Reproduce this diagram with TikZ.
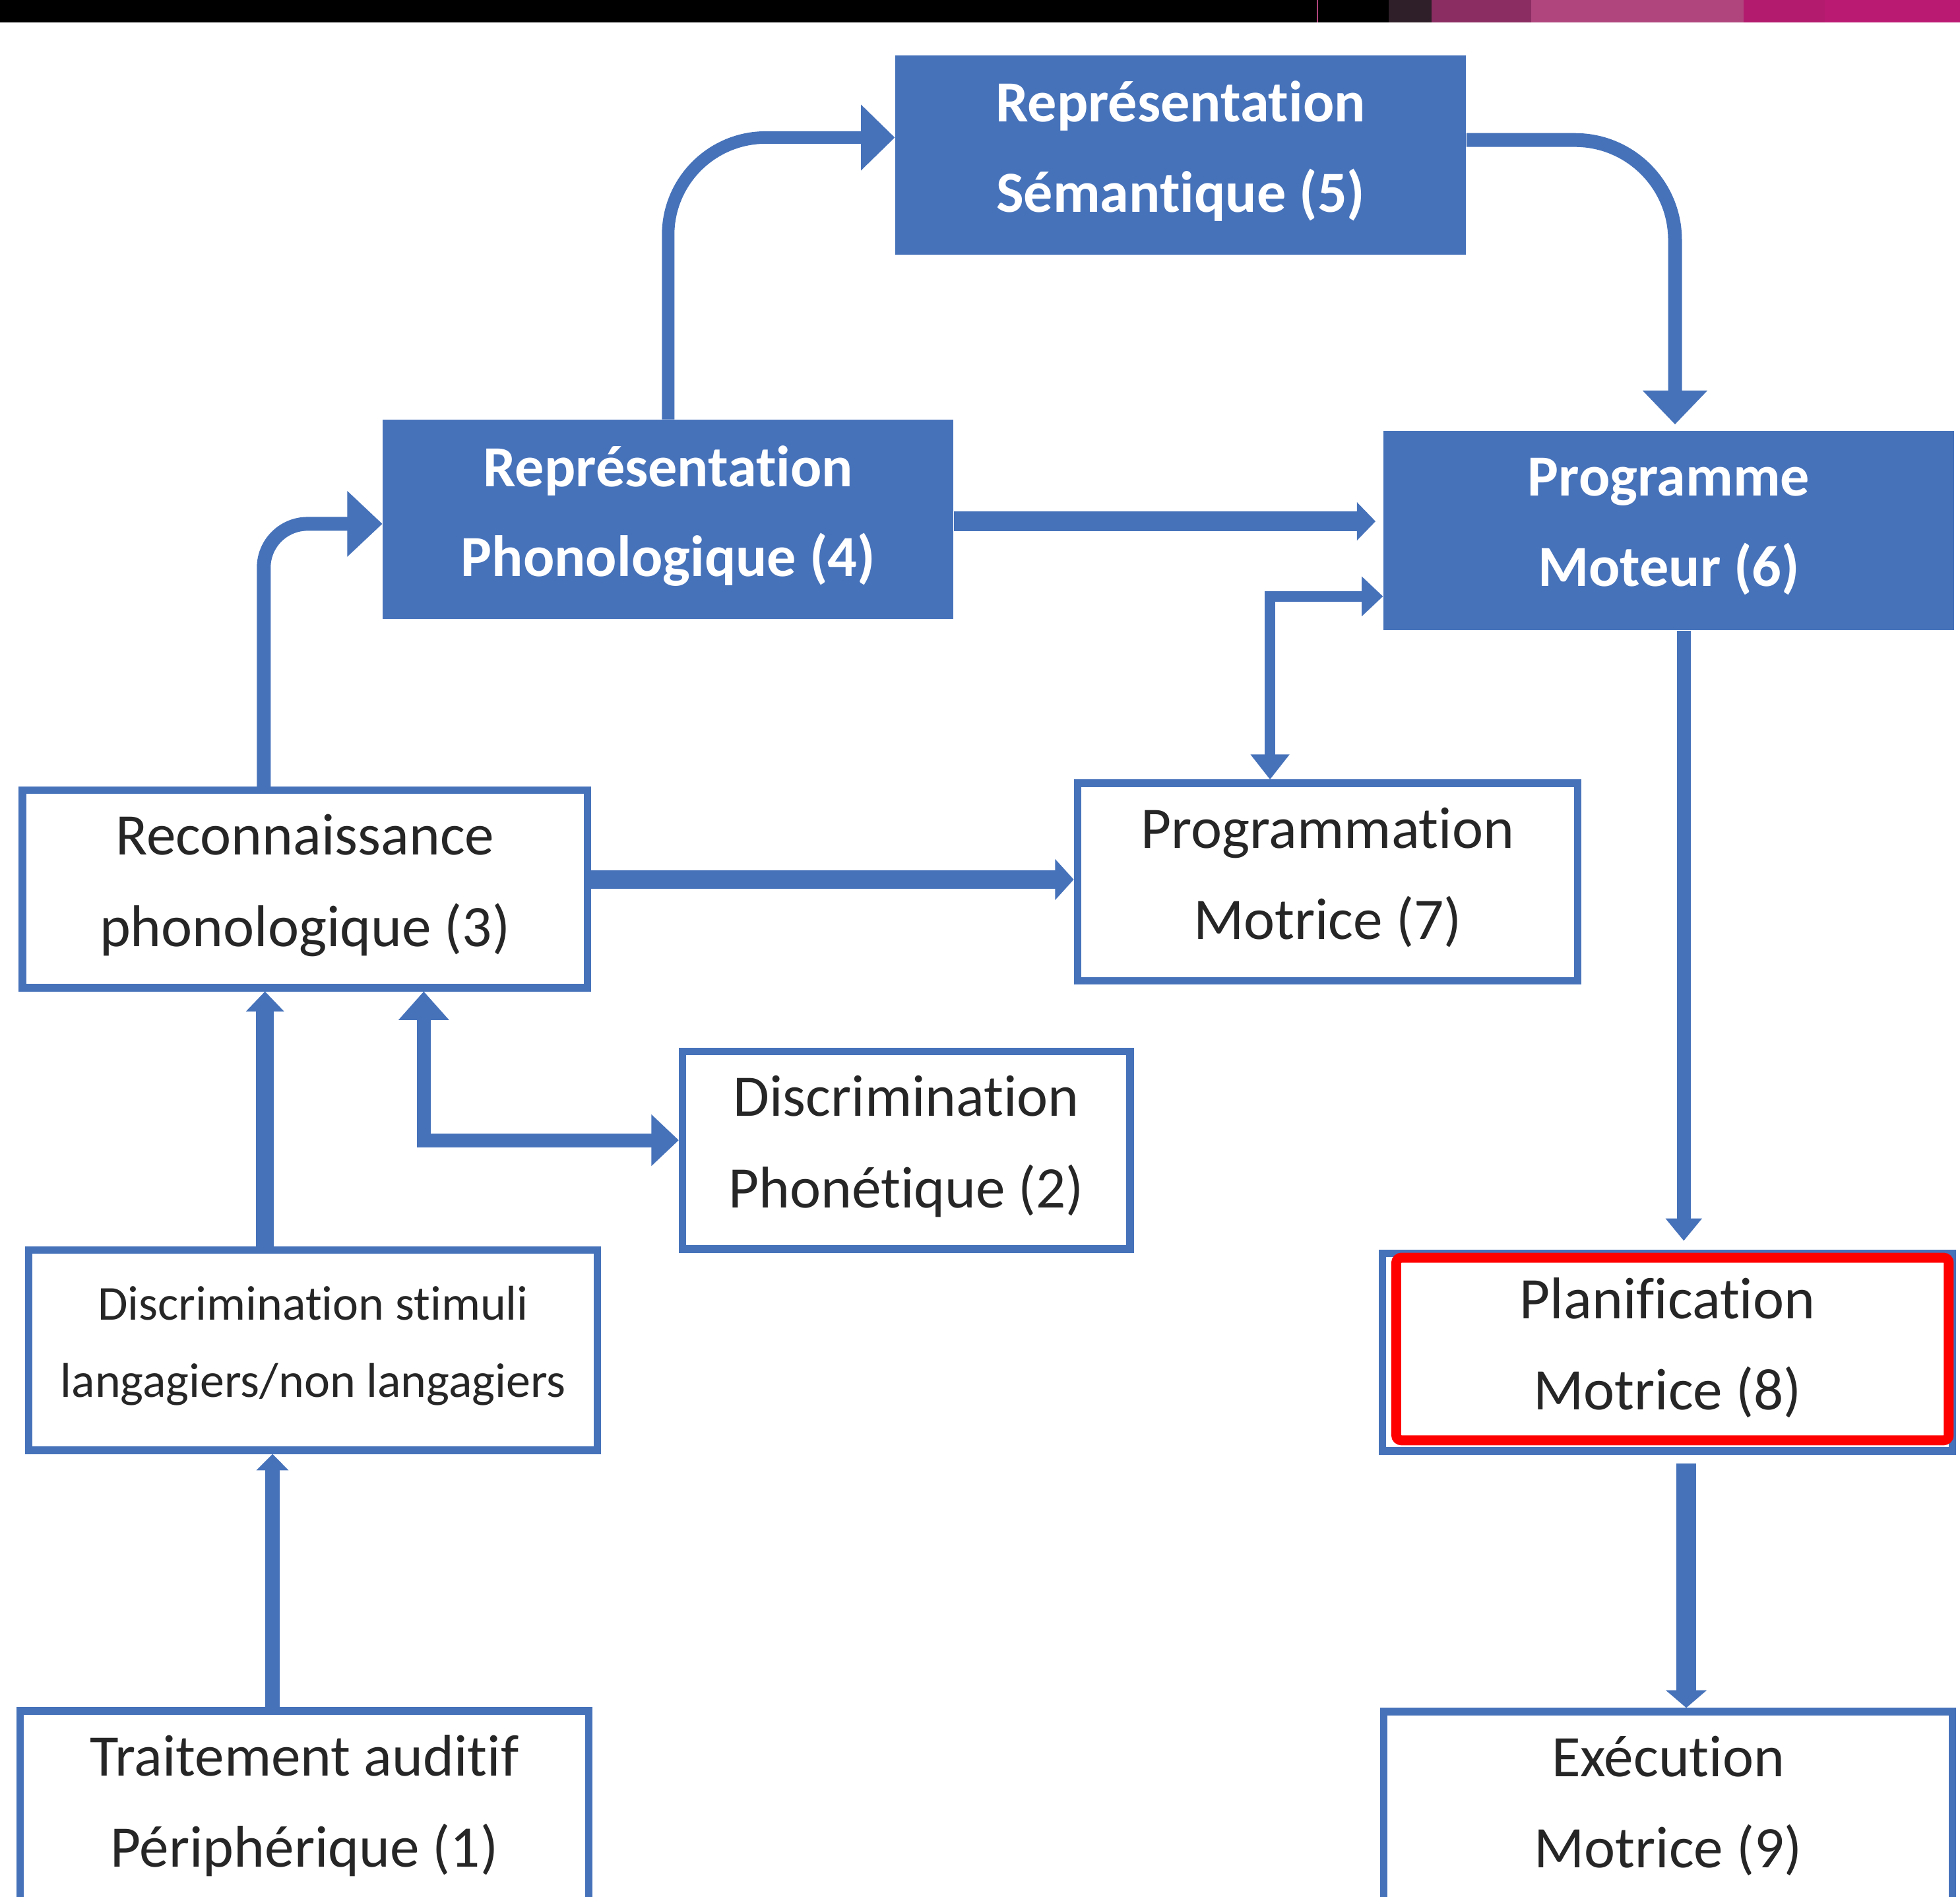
\documentclass[tikz,border=0pt]{standalone}
\usepackage{fontspec}
\setmainfont{Carlito}[Ligatures=NoCommon]
\usetikzlibrary{arrows.meta,calc}

\definecolor{bleu}{RGB}{70,114,186}
\definecolor{texte}{RGB}{38,38,38}
\definecolor{barre1}{RGB}{47,31,40}
\definecolor{barre2}{RGB}{139,45,99}
\definecolor{barre3}{RGB}{176,69,125}
\definecolor{barre4}{RGB}{179,27,110}
\definecolor{barre5}{RGB}{187,26,115}

\begin{document}
\begin{tikzpicture}[x=0.2mm, y=-0.2mm,
  plein/.style={rectangle, fill=bleu, text=white, align=center, inner sep=0pt,
    minimum width=91.3mm, minimum height=31.9mm,
    font=\bfseries\fontsize{26.5pt}{41pt}\selectfont,
    execute at begin node={\rule{0pt}{25pt}},
    execute at end node={\rule[-7.8pt]{0pt}{0pt}}},
  vide/.style={rectangle, draw=bleu, line width=3.4pt, text=texte, align=center,
    inner sep=0pt, minimum height=31.6mm,
    font=\fontsize{26.8pt}{41.5pt}\selectfont,
    execute at begin node={\rule{0pt}{25pt}},
    execute at end node={\rule[-7.8pt]{0pt}{0pt}}},
  fleche/.style n args={3}{draw=bleu, line width=#1pt,
    arrows={-Triangle[length=#2pt, width=#3pt]}},
  fleches/.style n args={5}{draw=bleu, line width=#1pt,
    arrows={Triangle[length=#2pt, width=#3pt]-Triangle[length=#4pt, width=#5pt]}}]

  \useasboundingbox (0,0) rectangle (1568,1517);
  \clip (0,0) rectangle (1568,1517);
  \fill[white] (0,0) rectangle (1568,1517);

  % Bandeau du haut
  \foreach \a/\b/\c in {0/1111/black, 1111/1145/barre1, 1145/1225/barre2,
      1225/1395/barre3, 1395/1460/barre4, 1460/1568/barre5}
    \fill[\c] (\a,0) rectangle (\b,18);
  \draw[barre3, line width=0.6pt] (1054,0) -- (1054,18);

  % Boites pleines
  \foreach \nom/\x/\y/\txt in {sem5/944.5/124/{Représentation\\Sémantique (5)},
      phono4/534.5/415.5/{Représentation\\Phonologique (4)},
      prog6/1335/424.5/{Programme\\Moteur (6)}}
    \node[plein] (\nom) at (\x,\y) {\txt};

  % Boites vides
  \foreach \nom/\x/\y/\w/\txt in {trait1/243.5/1447.5/91/{Traitement auditif\\Périphérique (1)},
      discph2/725/920/71.6/{Discrimination\\Phonétique (2)},
      reco3/244/711/90.4/{Reconnaissance\\phonologique (3)},
      progm7/1062/705.5/80/{Programmation\\Motrice (7)},
      planif8/1334/1081.5/91.2/{Planification\\Motrice (8)},
      exec9/1334.5/1448/91/{Exécution\\Motrice (9)}}
    \node[vide, minimum width=\w mm] (\nom) at (\x,\y) {\txt};

  \node[vide, minimum width=91mm, minimum height=32mm,
    font=\fontsize{22.2pt}{35.3pt}\selectfont,
    execute at begin node={\rule{0pt}{22pt}},
    execute at end node={\rule[-7.1pt]{0pt}{0pt}}] (stim) at (250.5,1080)
    {Discrimination stimuli\\langagiers/non langagiers};

  % Cadre rouge
  \draw[red, line width=4.5pt, rounded corners=0.8mm] (1117,1006) rectangle (1559,1152);

  % Connexions
  \draw[fleche={5.7}{15.4}{29}, rounded corners=15.6mm]
    (phono4.north) |- ($(sem5.west)+(0,-14)$);
  \draw[fleche={6.3}{15.4}{28.5}, rounded corners=16mm, shorten >=2.8pt]
    ($(sem5.east)+(0,-12)$) -| ($(prog6.north)+(5,0)$);

  \coordinate (c1) at ($(phono4.east)+(0,1.5)$);
  \draw[fleche={8.8}{8.5}{17}, shorten >=3.4pt] (c1) -- (c1 -| prog6.west);

  \draw[fleche={6.3}{16}{29}, rounded corners=7mm]
    ($(reco3.north)+(-33,0)$) |- ($(phono4.west)+(0,3.5)$);

  \draw[fleches={4.8}{11.4}{17}{9.7}{17.6}]
    ($(progm7.north)+(-46,0)$) |- ($(prog6.west)+(0,52.5)$);

  \coordinate (f1) at ($(reco3.east)+(0,-7.5)$);
  \draw[fleche={8.5}{8.5}{18.2}] (f1) -- (f1 -| progm7.west);

  \coordinate (g1) at ($(prog6.south)+(12,0)$);
  \draw[fleche={6.3}{10.2}{16}, shorten >=4pt] (g1) -- (g1 |- planif8.north);

  \coordinate (h1) at ($(stim.north)+(-38.5,0)$);
  \draw[fleche={8}{9.1}{16.8}] (h1) -- (h1 |- reco3.south);

  \coordinate (i1) at ($(reco3.south)+(95,0)$);
  \draw[fleches={6.3}{13}{22.2}{12.5}{22.8}] (i1) |- ($(discph2.west)+(0,-8)$);

  \coordinate (j1) at ($(trait1.north)+(-25.5,0)$);
  \draw[fleche={6.8}{7.4}{14.2}] (j1) -- (j1 |- stim.south);

  \coordinate (k1) at ($(planif8.south)+(15,7)$);
  \draw[fleche={9.1}{8}{18.2}] (k1) -- (k1 |- exec9.north);

\end{tikzpicture}
\end{document}
